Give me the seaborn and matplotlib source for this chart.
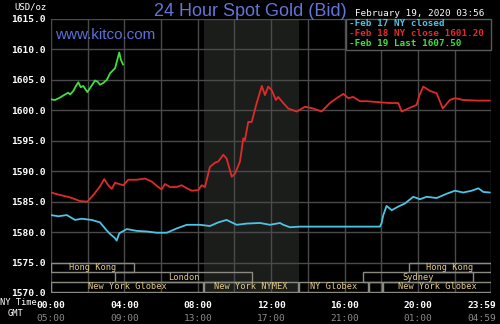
import matplotlib
matplotlib.use("Agg")
import matplotlib.pyplot as plt
import matplotlib.patches as mpatches
import seaborn as sns
import pandas as pd

# ---- price series (hours since 00:00 NY time, USD/oz) ----
feb19_hours = [0.00, 0.22, 0.49, 0.76, 0.94, 1.04, 1.22, 1.36, 1.49, 1.62, 1.76, 1.98,
               2.16, 2.40, 2.54, 2.67, 2.85, 3.04, 3.22, 3.49, 3.72, 3.81, 3.93]
feb19_price = [1601.8, 1601.7, 1602.1, 1602.6, 1602.9, 1602.6, 1603.2, 1604.0, 1604.6,
               1603.8, 1604.0, 1603.0, 1603.8, 1604.9, 1604.7, 1604.2, 1604.5, 1605.0,
               1606.1, 1606.9, 1609.5, 1608.3, 1607.5]

feb18_hours = [0.00, 0.49, 1.04, 1.58, 1.98, 2.31, 2.67, 2.90, 3.12, 3.31, 3.49, 3.94,
               4.21, 4.67, 5.12, 5.49, 5.76, 6.03, 6.21, 6.49, 6.85, 7.12, 7.40, 7.67,
               8.03, 8.21, 8.39, 8.66, 8.94, 9.12, 9.39, 9.57, 9.85, 10.03, 10.30, 10.48,
               10.57, 10.75, 10.94, 11.21, 11.49, 11.66, 11.84, 12.03, 12.26, 12.38,
               12.66, 12.93, 13.39, 13.84, 14.29, 14.75, 15.20, 15.57, 15.93, 16.20,
               16.47, 16.84, 17.20, 18.02, 18.47, 18.93, 19.11, 19.47, 19.93, 20.07,
               20.29, 20.65, 21.02, 21.35, 21.74, 22.02, 22.47, 23.20, 23.92]
feb18_price = [1586.5, 1586.1, 1585.7, 1585.1, 1585.0, 1586.1, 1587.5, 1588.7, 1587.7,
               1587.1, 1588.1, 1587.7, 1588.6, 1588.6, 1588.8, 1588.3, 1587.6, 1587.0,
               1587.9, 1587.4, 1587.4, 1587.7, 1587.2, 1586.8, 1586.9, 1587.7, 1587.4,
               1590.7, 1591.4, 1591.6, 1592.7, 1592.1, 1589.1, 1589.6, 1591.6, 1595.4,
               1595.1, 1598.1, 1598.1, 1601.2, 1604.0, 1602.5, 1603.9, 1603.3, 1601.7,
               1602.2, 1601.2, 1600.3, 1599.8, 1600.6, 1600.3, 1599.8, 1601.2, 1602.0,
               1602.7, 1602.0, 1602.2, 1601.5, 1601.5, 1601.3, 1601.2, 1601.2, 1599.8,
               1600.3, 1600.9, 1602.4, 1603.9, 1603.2, 1602.8, 1600.3, 1601.7, 1602.0,
               1601.7, 1601.6, 1601.6]

feb17_hours = [0.00, 0.40, 0.86, 1.31, 1.67, 2.22, 2.67, 3.00, 3.22, 3.49, 3.58, 3.72,
               4.13, 4.67, 5.22, 5.76, 6.31, 6.85, 7.40, 8.12, 8.66, 9.12, 9.57, 10.12,
               10.66, 11.39, 11.93, 12.48, 12.66, 13.02, 13.57, 17.93, 18.02, 18.11,
               18.29, 18.57, 18.93, 19.29, 19.74, 20.11, 20.47, 21.02, 21.56, 22.02,
               22.47, 22.93, 23.29, 23.56, 23.92]
feb17_price = [1582.8, 1582.6, 1582.8, 1582.0, 1582.2, 1582.0, 1581.6, 1580.4, 1579.7,
               1579.0, 1578.6, 1579.8, 1580.5, 1580.2, 1580.1, 1579.9, 1579.9, 1580.6,
               1581.2, 1581.2, 1581.0, 1581.6, 1582.0, 1581.2, 1581.4, 1581.5, 1581.2,
               1581.5, 1581.2, 1580.8, 1580.9, 1580.9, 1581.5, 1582.8, 1584.3, 1583.6,
               1584.2, 1584.7, 1585.8, 1585.4, 1585.8, 1585.6, 1586.3, 1586.8, 1586.5,
               1586.8, 1587.2, 1586.6, 1586.5]

legend_labels = ["-Feb 17 NY closed", "-Feb 18 NY close 1601.20", "-Feb 19 Last 1607.50"]

y_ticks = [1570, 1575, 1580, 1585, 1590, 1595, 1600, 1605, 1610, 1615]
ny_hours = [0, 4, 8, 12, 16, 20, 23.98]
ny_labels = ["00:00", "04:00", "08:00", "12:00", "16:00", "20:00", "23:59"]
gmt_labels = ["05:00", "09:00", "13:00", "17:00", "21:00", "01:00", "04:59"]

# trading sessions: name, start hour, end hour, row (0 = top)
session_names = ["Hong Kong", "Hong Kong", "London", "Sydney", "New York Globex",
                 "New York NYMEX", "NY Globex", "", "New York Globex"]
session_start = [0.0, 19.5, 3.5, 17.0, 0.0, 8.33, 13.5, 17.33, 18.1]
session_end = [4.5, 23.98, 10.95, 23.0, 8.28, 13.45, 17.3, 18.05, 23.98]
session_row = [0, 0, 1, 1, 2, 2, 2, 2, 2]

nymex_open, nymex_close = 8.33, 13.5

# ---- styling ----
sns.set_theme(style="dark", rc={"axes.facecolor": "black", "figure.facecolor": "black"})
mono = "DejaVu Sans Mono"
grid_c = "#4a4a4a"

fig = plt.figure(figsize=(5.0, 3.24), dpi=100)
ax = fig.add_axes([51 / 500, 1 - 293 / 324, 440 / 500, 274 / 324])
ax.set_facecolor("black")

ax.axvspan(nymex_open, nymex_close, color="#1b1d1b", zorder=0, lw=0)

for h in range(0, 24, 2):
    ax.axvline(h, color=grid_c, lw=1, zorder=1)
ax.axvline(23.98, color=grid_c, lw=1, zorder=1)
for v in y_ticks:
    ax.axhline(v, color=grid_c, lw=1, zorder=1)

series = [
    (feb17_hours, feb17_price, "#4cc4e4"),
    (feb18_hours, feb18_price, "#e02a2a"),
    (feb19_hours, feb19_price, "#3ee03e"),
]
for hrs, prc, col in series:
    df = pd.DataFrame({"hour": hrs, "price": prc})
    sns.lineplot(data=df, x="hour", y="price", ax=ax, color=col, lw=1.3,
                 zorder=3, estimator=None, sort=False)

# session boxes along the bottom
row_top = 1575.0
row_h = 1.6
for name, s, e, r in zip(session_names, session_start, session_end, session_row):
    y0 = row_top - (r + 1) * row_h
    ax.add_patch(mpatches.Rectangle((s, y0), e - s, row_h, fill=False,
                                    edgecolor="#8a8a80", lw=1, zorder=4))
    if name:
        ax.text((s + e) / 2, y0 + row_h / 2, name, ha="center", va="center",
                fontsize=6.2, family=mono, color="#e4cc88", zorder=5)

ax.set_xlim(0, 23.98)
ax.set_ylim(1570, 1615)
ax.set_yticks(y_ticks)
ax.set_yticklabels([f"{v:.1f}" for v in y_ticks], family=mono, fontsize=6.8,
                   color="white", weight="bold")
ax.tick_params(axis="y", length=0, pad=4)
ax.set_xticks([])
ax.set_xlabel("")
ax.set_ylabel("")
for sp in ax.spines.values():
    sp.set_visible(False)

# time axis labels (NY time and GMT)
xt = ax.get_xaxis_transform()
for h, ny, gmt in zip(ny_hours, ny_labels, gmt_labels):
    last = h == ny_hours[-1]
    xpos = 24.25 if last else h
    ha = "right" if last else "center"
    ax.text(xpos, -0.03, ny, transform=xt, ha=ha, va="top", fontsize=6.8,
            family=mono, color="white", weight="bold", clip_on=False)
    ax.text(xpos, -0.075, gmt, transform=xt, ha=ha, va="top", fontsize=6.8,
            family=mono, color="#8a8a8a", clip_on=False)
fig.text(0 / 500, 1 - 298 / 324, "NY Time", ha="left", va="top", fontsize=6.3,
         family=mono, color="white")
fig.text(8 / 500, 1 - 309 / 324, "GMT", ha="left", va="top", fontsize=6.3,
         family=mono, color="white")

# legend box
leg_cols = ["#4cc4e4", "#e02a2a", "#3ee03e"]
ax.add_patch(mpatches.Rectangle((16.1, 1615 - 5.1), 23.98 - 16.1, 5.1,
                                facecolor="black", edgecolor="#5a5a5a", lw=1,
                                zorder=6, clip_on=False))
for i, (lab, col) in enumerate(zip(legend_labels, leg_cols)):
    ax.text(16.25, 1614.2 - i * 1.65, lab, ha="left", va="center", fontsize=6.7,
            family=mono, weight="bold", color=col, zorder=7)

# titles and stamps
fig.text(0.5, 1 - 11 / 324, "24 Hour Spot Gold (Bid)", ha="center", va="center",
         fontsize=13, family="Liberation Sans", color="#6474d8")
fig.text(355 / 500, 1 - 14 / 324, "February 19, 2020 03:56", ha="left", va="center",
         fontsize=6.7, family=mono, color="white")
fig.text(14 / 500, 1 - 7 / 324, "USD/oz", ha="left", va="center", fontsize=6.5,
         family=mono, color="white")
ax.text(0.2, 1612.3, "www.kitco.com", ha="left", va="center", fontsize=11,
        family="Liberation Sans", color="#5c70dc", zorder=5)

fig.savefig("out.png", dpi=100, facecolor="black")
